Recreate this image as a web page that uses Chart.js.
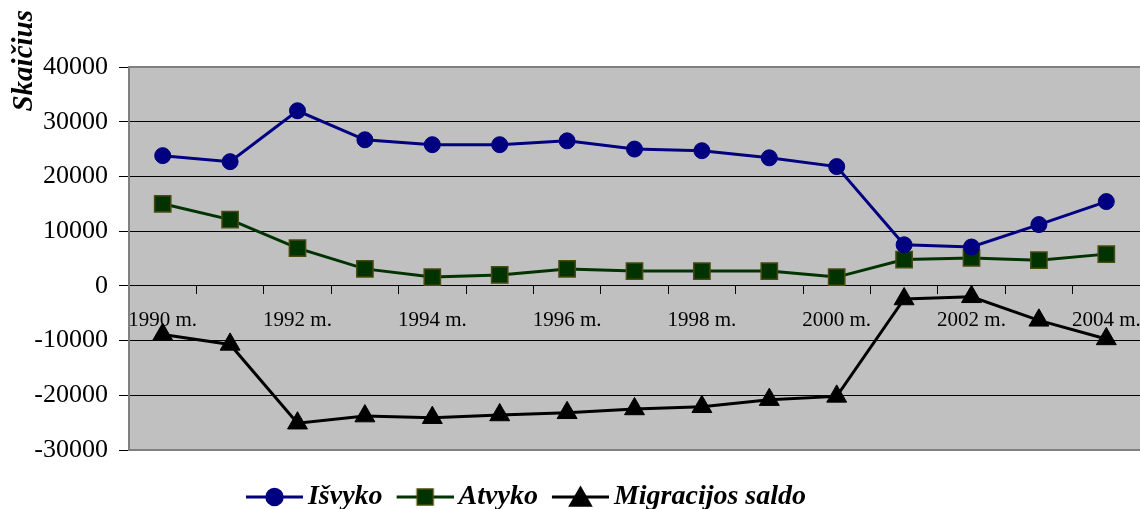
<!DOCTYPE html>
<html lang="lt">
<head>
<meta charset="UTF-8">
<title>Migracija 1990-2004</title>
<script src="https://cdn.jsdelivr.net/npm/chart.js"></script>
<style>
  html, body { margin: 0; padding: 0; background: #ffffff; }
  #wrap { width: 1140px; height: 509px; }
</style>
</head>
<body>
<div id="wrap"><canvas id="migChart"></canvas></div>
<script>
// data
const years = ['1990 m.', '1991 m.', '1992 m.', '1993 m.', '1994 m.', '1995 m.', '1996 m.', '1997 m.',
               '1998 m.', '1999 m.', '2000 m.', '2001 m.', '2002 m.', '2003 m.', '2004 m.'];
const isvyko = [23800, 22700, 32000, 26700, 25800, 25800, 26500, 25000, 24700, 23400, 21800, 7500, 7100, 11200, 15400];
const atvyko = [15000, 12100, 6900, 3100, 1600, 2000, 3100, 2700, 2700, 2700, 1600, 4800, 5100, 4700, 5800];
const saldo  = [-8900, -10700, -25100, -23800, -24100, -23600, -23200, -22500, -22100, -20800, -20200, -2400, -2000, -6300, -9700];
const yTicks = { min: -30000, max: 40000, step: 10000 };
const yTitle = 'Skaičius';
const seriesNames = ['Išvyko', 'Atvyko', 'Migracijos saldo'];

const serif = '"Liberation Serif", "Times New Roman", serif';

// line+marker icon for the legend (transparent margin on the left so it sits
// close to its own text)
function makeIcon(color, style, fill, border) {
  const c = document.createElement('canvas');
  c.width = 70; c.height = 24;
  const g = c.getContext('2d');
  const x0 = 13, mid = 41.5, cy = 12;
  g.strokeStyle = color; g.lineWidth = 3;
  g.beginPath(); g.moveTo(x0, cy); g.lineTo(70, cy); g.stroke();
  g.fillStyle = fill; g.strokeStyle = border; g.lineWidth = 1.5;
  g.beginPath();
  if (style === 'circle') {
    g.arc(mid, cy, 8.5, 0, Math.PI * 2);
  } else if (style === 'rect') {
    g.rect(mid - 8, cy - 8, 16, 16);
  } else {
    g.moveTo(mid, cy - 10); g.lineTo(mid + 11, cy + 9); g.lineTo(mid - 11, cy + 9); g.closePath();
  }
  g.fill(); g.stroke();
  return c;
}

const plotBg = {
  id: 'plotBg',
  beforeDraw(chart) {
    const {ctx, chartArea: a} = chart;
    ctx.save();
    ctx.fillStyle = '#c0c0c0';
    ctx.fillRect(a.left, a.top, a.right - a.left, a.bottom - a.top);
    ctx.restore();
  },
  beforeDatasetsDraw(chart) {
    const {ctx, chartArea: a} = chart;
    ctx.save();
    ctx.strokeStyle = '#808080';
    ctx.lineWidth = 2;
    ctx.beginPath();
    ctx.moveTo(a.left, a.top); ctx.lineTo(a.right, a.top);
    ctx.moveTo(a.left, a.bottom); ctx.lineTo(a.right, a.bottom);
    ctx.stroke();
    ctx.restore();
  },
  afterDraw(chart) {
    // rotated axis title, up at the top like the original
    const ctx = chart.ctx;
    ctx.save();
    ctx.translate(32, 10);
    ctx.rotate(-Math.PI / 2);
    ctx.font = 'italic bold 29px ' + serif;
    ctx.fillStyle = '#000';
    ctx.textAlign = 'right';
    ctx.textBaseline = 'alphabetic';
    ctx.fillText(yTitle, 0, 0);
    ctx.restore();
  }
};

const legendShift = {
  id: 'legendShift',
  afterLayout(chart) {
    const lg = chart.legend;
    const dy = 483 - 10 - lg.top;
    lg.top += dy; lg.bottom += dy;
    lg.left -= 46; lg.right -= 46;
  }
};

const ctx = document.getElementById('migChart').getContext('2d');
const migChart = new Chart(ctx, {
  type: 'line',
  data: {
    labels: years,
    datasets: [
      {
        label: seriesNames[0],
        data: isvyko,
        borderColor: '#000080',
        backgroundColor: '#000080',
        borderWidth: 3,
        pointStyle: 'circle',
        pointRadius: 8,
        pointBorderWidth: 1,
        tension: 0
      },
      {
        label: seriesNames[1],
        data: atvyko,
        borderColor: '#003300',
        backgroundColor: '#003300',
        pointBorderColor: '#4a4a10',
        borderWidth: 3,
        pointStyle: 'rect',
        pointRadius: 11.5,
        pointBorderWidth: 1.5,
        tension: 0
      },
      {
        label: seriesNames[2],
        data: saldo,
        borderColor: '#000000',
        backgroundColor: '#000000',
        borderWidth: 3,
        pointStyle: 'triangle',
        pointRadius: 11.5,
        pointBorderWidth: 1,
        tension: 0
      }
    ]
  },
  options: {
    responsive: true,
    maintainAspectRatio: false,
    animation: false,
    layout: { autoPadding: false, padding: { left: 0, right: 0, top: 67, bottom: 11 } },
    plugins: {
      tooltip: { enabled: false },
      legend: {
        position: 'bottom',
        labels: {
          usePointStyle: true,
          pointStyleWidth: 52,
          padding: 10,
          color: '#000',
          font: { family: serif, size: 28, style: 'italic', weight: 'bold' },
          generateLabels(chart) {
            const icons = [
              makeIcon('#000080', 'circle', '#000080', '#000080'),
              makeIcon('#003300', 'rect', '#003300', '#4a4a10'),
              makeIcon('#000000', 'triangle', '#000000', '#000000')
            ];
            return chart.data.datasets.map((ds, i) => ({
              text: ds.label,
              pointStyle: icons[i],
              fillStyle: ds.backgroundColor,
              strokeStyle: ds.borderColor,
              lineWidth: 0,
              fontColor: '#000',
              hidden: false,
              datasetIndex: i
            }));
          }
        }
      }
    },
    scales: {
      x: {
        type: 'category',
        position: { y: 0 },
        offset: true,
        afterFit(scale) { scale.paddingLeft = 0; scale.paddingRight = 0; },
        grid: { offset: true, drawOnChartArea: false, drawTicks: true, tickLength: 8, color: '#000', tickColor: '#000' },
        border: { color: '#000', width: 1 },
        ticks: {
          autoSkip: false,
          maxRotation: 0,
          padding: 14,
          color: '#000',
          font: { family: serif, size: 21 },
          callback: function (val, i) { return i % 2 === 0 ? this.getLabelForValue(val) : ''; }
        }
      },
      y: {
        min: yTicks.min,
        max: yTicks.max,
        afterFit(scale) { scale.width = 129; },
        grid: { color: '#000', lineWidth: 1, tickLength: 10, tickColor: '#000' },
        border: { color: '#808080', width: 2 },
        ticks: {
          stepSize: yTicks.step,
          padding: 11,
          color: '#000',
          font: { family: serif, size: 26 },
          callback: v => String(v)
        }
      }
    }
  },
  plugins: [plotBg, legendShift]
});
</script>
</body>
</html>
